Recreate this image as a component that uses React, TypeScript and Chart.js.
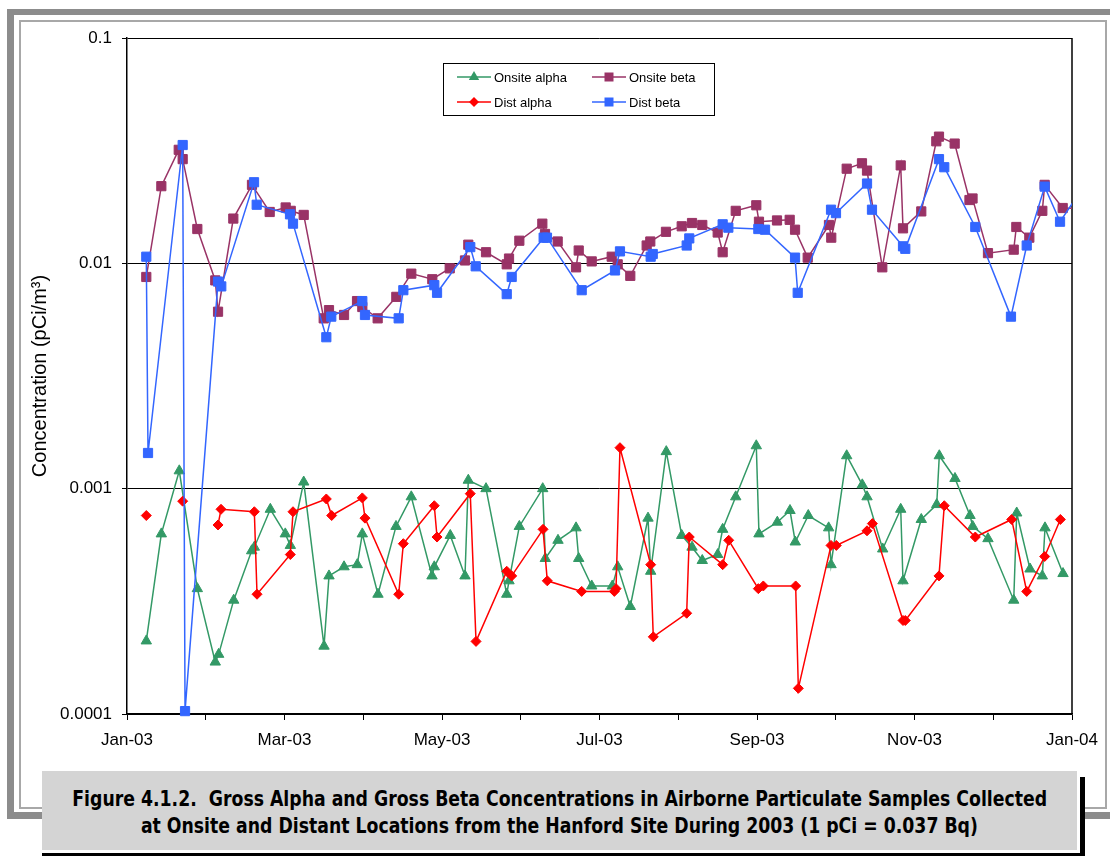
import React, { useEffect, useRef } from 'react';
import { Chart, registerables } from 'chart.js';

Chart.register(...registerables);

// x = months after 1 Jan 2003 (axis drawn with equal monthly intervals)
const xTickLabels = ['Jan-03', 'Mar-03', 'May-03', 'Jul-03', 'Sep-03', 'Nov-03', 'Jan-04'];
const yTickValues = [0.0001, 0.001, 0.01, 0.1];
const yTickLabels = ['0.0001', '0.001', '0.01', '0.1'];

const onsiteAlpha: [number, number][] = [
  [0.245, 0.000211], [0.436, 0.00063], [0.664, 0.0012], [0.893, 0.00036], [1.121, 0.00017],
  [1.164, 0.000184], [1.355, 0.00032], [1.583, 0.00053], [1.617, 0.00055], [1.82, 0.00081],
  [2.01, 0.00063], [2.074, 0.00056], [2.244, 0.00107], [2.502, 0.0002], [2.565, 0.00041],
  [2.756, 0.00045], [2.924, 0.00046], [2.988, 0.00063], [3.187, 0.00034], [3.416, 0.00068],
  [3.61, 0.00092], [3.873, 0.00041], [3.902, 0.00045], [4.105, 0.00062], [4.292, 0.00041],
  [4.334, 0.00109], [4.559, 0.001], [4.822, 0.00034], [4.851, 0.00039], [4.982, 0.00068],
  [5.279, 0.001], [5.312, 0.00049], [5.473, 0.00059], [5.702, 0.00067], [5.736, 0.00049],
  [5.901, 0.00037], [6.163, 0.00037], [6.231, 0.00045], [6.391, 0.0003], [6.616, 0.00074],
  [6.65, 0.00043], [6.848, 0.00146], [7.044, 0.00062], [7.175, 0.00055], [7.305, 0.00048],
  [7.501, 0.00051], [7.564, 0.00066], [7.73, 0.00092], [7.991, 0.00155], [8.025, 0.00063],
  [8.258, 0.00071], [8.419, 0.0008], [8.486, 0.00058], [8.651, 0.00076], [8.91, 0.00067],
  [8.94, 0.00046], [9.139, 0.0014], [9.337, 0.00104], [9.397, 0.00092], [9.596, 0.00054],
  [9.825, 0.00081], [9.854, 0.00039], [10.086, 0.00073], [10.282, 0.00085], [10.315, 0.0014],
  [10.514, 0.00111], [10.705, 0.00076], [10.739, 0.00068], [10.933, 0.0006], [11.26, 0.00032],
  [11.298, 0.00078], [11.467, 0.00044], [11.623, 0.00041], [11.657, 0.00067], [11.886, 0.00042],
];

const onsiteBeta: [number, number][] = [
  [0.245, 0.0087], [0.436, 0.022], [0.657, 0.0319], [0.707, 0.029], [0.893, 0.0142],
  [1.121, 0.0084], [1.156, 0.0061], [1.35, 0.0158], [1.587, 0.0223], [1.812, 0.0169],
  [2.015, 0.0177], [2.079, 0.0171], [2.244, 0.0164], [2.498, 0.0057], [2.565, 0.0062],
  [2.756, 0.0059], [2.921, 0.0068], [2.988, 0.0064], [3.183, 0.0057], [3.42, 0.0071],
  [3.61, 0.009], [3.877, 0.0085], [4.098, 0.0095], [4.292, 0.0103], [4.334, 0.0121],
  [4.559, 0.0112], [4.822, 0.0099], [4.851, 0.0105], [4.982, 0.0126], [5.274, 0.015],
  [5.308, 0.0135], [5.469, 0.0125], [5.702, 0.0096], [5.736, 0.0114], [5.901, 0.0102],
  [6.155, 0.0107], [6.231, 0.0099], [6.391, 0.0088], [6.599, 0.012], [6.645, 0.0125],
  [6.844, 0.0138], [7.044, 0.0146], [7.175, 0.0151], [7.305, 0.0148], [7.501, 0.0137],
  [7.564, 0.0112], [7.73, 0.0171], [7.991, 0.0181], [8.025, 0.0153], [8.254, 0.0155],
  [8.415, 0.0156], [8.483, 0.0141], [8.644, 0.0106], [8.914, 0.0148], [8.943, 0.013],
  [9.139, 0.0263], [9.333, 0.0278], [9.397, 0.0258], [9.591, 0.0096], [9.825, 0.0272],
  [9.854, 0.0143], [10.086, 0.017], [10.277, 0.0348], [10.311, 0.0365], [10.51, 0.034],
  [10.698, 0.0191], [10.737, 0.0194], [10.933, 0.0111], [11.26, 0.0115], [11.293, 0.0145],
  [11.458, 0.013], [11.623, 0.0171], [11.653, 0.0223], [11.882, 0.0176], [12.1, 0.0175],
];

const distAlpha: [number, number | null][] = [
  [0.245, 0.00076], [0.48, null], [0.707, 0.00088], [0.93, null], [1.156, 0.00069],
  [1.194, 0.00081], [1.617, 0.00079], [1.651, 0.00034], [2.074, 0.00051], [2.108, 0.00079],
  [2.531, 0.0009], [2.599, 0.00076], [2.988, 0.00091], [3.022, 0.00074], [3.45, 0.00034],
  [3.509, 0.00057], [3.902, 0.00084], [3.937, 0.00061], [4.359, 0.00095], [4.432, 0.00021],
  [4.822, 0.00043], [4.885, 0.00041], [5.283, 0.00066], [5.337, 0.00039], [5.774, 0.00035],
  [6.188, 0.00035], [6.21, 0.00036], [6.26, 0.00152], [6.65, 0.00046], [6.683, 0.00022],
  [7.107, 0.00028], [7.14, 0.00061], [7.564, 0.00046], [7.641, 0.00059], [8.017, 0.00036],
  [8.08, 0.00037], [8.491, 0.00037], [8.525, 0.00013], [8.94, 0.00056], [9.007, 0.00056],
  [9.397, 0.00065], [9.465, 0.0007], [9.854, 0.00026], [9.883, 0.00026], [10.311, 0.00041],
  [10.378, 0.00084], [10.772, 0.00061], [11.234, 0.00073], [11.425, 0.00035], [11.653, 0.0005],
  [11.852, 0.00073],
];

const distBeta: [number, number][] = [
  [0.245, 0.0107], [0.267, 0.00144], [0.707, 0.0335], [0.737, 0.000103], [1.156, 0.0083],
  [1.197, 0.0079], [1.613, 0.0229], [1.647, 0.0182], [2.07, 0.0165], [2.108, 0.015],
  [2.531, 0.0047], [2.594, 0.0058], [2.988, 0.0068], [3.022, 0.0059], [3.45, 0.0057],
  [3.509, 0.0076], [3.902, 0.008], [3.937, 0.0074], [4.359, 0.0118], [4.428, 0.0097],
  [4.822, 0.0073], [4.885, 0.0087], [5.291, 0.013], [5.333, 0.013], [5.774, 0.0076],
  [6.197, 0.0093], [6.26, 0.0113], [6.65, 0.0107], [6.676, 0.011], [7.107, 0.012],
  [7.14, 0.0129], [7.564, 0.0149], [7.636, 0.0144], [8.017, 0.0142], [8.102, 0.0141],
  [8.483, 0.0106], [8.517, 0.0074], [8.94, 0.0173], [9.003, 0.0167], [9.397, 0.0226],
  [9.46, 0.0173], [9.854, 0.0119], [9.883, 0.0116], [10.311, 0.029], [10.378, 0.0267],
  [10.772, 0.0145], [11.225, 0.0058], [11.425, 0.012], [11.653, 0.0219], [11.848, 0.0153],
  [12.076, 0.0201],
];

const GREEN = '#339966';
const PURPLE = '#993366';
const RED = '#FF0000';
const BLUE = '#3366FF';
const FONT = '"Liberation Sans", Arial, Helvetica, sans-serif';

const toPoints = (pairs: [number, number | null][]) => pairs.map(([x, y]) => ({ x, y }));

function drawMarker(ctx: CanvasRenderingContext2D, kind: string, x: number, y: number, color: string) {
  ctx.fillStyle = color;
  ctx.beginPath();
  if (kind === 'triangle') {
    ctx.moveTo(x, y - 6);
    ctx.lineTo(x + 5.2, y + 3);
    ctx.lineTo(x - 5.2, y + 3);
  } else if (kind === 'rect') {
    ctx.rect(x - 4.5, y - 4.5, 9, 9);
  } else {
    ctx.moveTo(x, y - 5);
    ctx.lineTo(x + 5, y);
    ctx.lineTo(x, y + 5);
    ctx.lineTo(x - 5, y);
  }
  ctx.closePath();
  ctx.fill();
}

const legendItems = [
  { label: 'Onsite alpha', color: GREEN, marker: 'triangle', col: 0, row: 0 },
  { label: 'Onsite beta', color: PURPLE, marker: 'rect', col: 1, row: 0 },
  { label: 'Dist alpha', color: RED, marker: 'rectRot', col: 0, row: 1 },
  { label: 'Dist beta', color: BLUE, marker: 'rect', col: 1, row: 1 },
];

const boxLegend = {
  id: 'boxLegend',
  afterDraw(chart: any) {
    const ctx: CanvasRenderingContext2D = chart.ctx;
    ctx.save();
    ctx.fillStyle = '#fff';
    ctx.fillRect(443.5, 63.5, 271, 52);
    ctx.strokeStyle = '#000';
    ctx.lineWidth = 1;
    ctx.strokeRect(443.5, 63.5, 271, 52);
    ctx.font = '13px ' + FONT;
    ctx.textBaseline = 'middle';
    for (const it of legendItems) {
      const x0 = it.col === 0 ? 457 : 592;
      const y = it.row === 0 ? 77 : 102;
      ctx.strokeStyle = it.color;
      ctx.lineWidth = 1.5;
      ctx.beginPath();
      ctx.moveTo(x0, y);
      ctx.lineTo(x0 + 34, y);
      ctx.stroke();
      drawMarker(ctx, it.marker, x0 + 17, y, it.color);
      ctx.fillStyle = '#000';
      ctx.fillText(it.label, x0 + 37, y + 1);
    }
    ctx.restore();
  },
};

const rightBorder = {
  id: 'rightBorder',
  beforeDatasetsDraw(chart: any) {
    const { ctx, chartArea: a } = chart;
    ctx.save();
    ctx.strokeStyle = '#000';
    ctx.lineWidth = 1.5;
    ctx.beginPath();
    ctx.moveTo(a.right, a.top);
    ctx.lineTo(a.right, a.bottom);
    ctx.stroke();
    ctx.restore();
  },
};

const clip = { left: 8, top: 8, right: 0, bottom: 8 };

export default function App() {
  const ref = useRef<HTMLCanvasElement>(null);

  useEffect(() => {
    if (!ref.current) return;
    const chart = new Chart(ref.current, {
      type: 'line',
      data: {
        datasets: [
          {
            label: 'Onsite alpha', data: toPoints(onsiteAlpha) as any, borderColor: GREEN, backgroundColor: GREEN,
            pointStyle: 'triangle', pointRadius: 6, pointBorderWidth: 1, borderWidth: 1.5, order: 4, clip,
          },
          {
            label: 'Onsite beta', data: toPoints(onsiteBeta) as any, borderColor: PURPLE, backgroundColor: PURPLE,
            pointStyle: 'rect', pointRadius: 6.5, pointBorderWidth: 1, borderWidth: 1.5, order: 3, clip,
          },
          {
            label: 'Dist alpha', data: toPoints(distAlpha) as any, borderColor: RED, backgroundColor: RED,
            pointStyle: 'rectRot', pointRadius: 5, pointBorderWidth: 1, borderWidth: 1.5, order: 2, clip,
          },
          {
            label: 'Dist beta', data: toPoints(distBeta) as any, borderColor: BLUE, backgroundColor: BLUE,
            pointStyle: 'rect', pointRadius: 6.5, pointBorderWidth: 1, borderWidth: 1.5, order: 1, clip,
          },
        ],
      },
      options: {
        responsive: false,
        animation: false,
        events: [],
        spanGaps: false,
        layout: { padding: { top: 38, right: 38, left: 0, bottom: 0 } },
        elements: { line: { tension: 0 } },
        plugins: { legend: { display: false }, tooltip: { enabled: false } },
        scales: {
          x: {
            type: 'linear',
            min: 0,
            max: 12,
            afterFit: (s: any) => { s.height = 46; },
            ticks: {
              stepSize: 1,
              autoSkip: false,
              maxRotation: 0,
              padding: 10,
              color: '#000',
              font: { family: FONT, size: 17 },
              callback: (v: any) => (Number.isInteger(v) && v % 2 === 0 ? xTickLabels[v / 2] : ''),
            },
            grid: { drawOnChartArea: false, drawTicks: true, tickLength: 6, color: '#000' },
            border: { color: '#000', width: 1.5 },
          },
          y: {
            type: 'logarithmic',
            min: 0.0001,
            max: 0.1,
            afterBuildTicks: (s: any) => { s.ticks = yTickValues.map((v) => ({ value: v })); },
            afterFit: (s: any) => { s.width = 127; },
            ticks: {
              padding: 10,
              color: '#000',
              font: { family: FONT, size: 17 },
              callback: (_v: any, i: number) => yTickLabels[i],
            },
            grid: { color: '#000', lineWidth: 1, tickLength: 5 },
            border: { color: '#000', width: 1.5 },
            title: {
              display: true,
              text: 'Concentration (pCi/m³)',
              color: '#000',
              font: { family: FONT, size: 20 },
              padding: { top: 28, bottom: 0 },
            },
          },
        },
      },
      plugins: [boxLegend, rightBorder],
    } as any);
    return () => chart.destroy();
  }, []);

  const abs = (l: number, t: number, w: number, h: number, extra: any = {}) => ({
    position: 'absolute' as const, left: l, top: t, width: w, height: h, ...extra,
  });

  const captionLine = {
    whiteSpace: 'pre' as const,
    transform: 'scaleX(0.915)',
    transformOrigin: 'center',
  };

  return (
    <div style={{ position: 'absolute', left: 0, top: 0, width: 1110, height: 856, background: '#fff', overflow: 'hidden' }}>
      <div style={abs(7, 9, 1103, 6, { background: '#8c8c8c' })} />
      <div style={abs(7, 9, 7, 810, { background: '#8c8c8c' })} />
      <div style={abs(7, 812, 1103, 7, { background: '#8c8c8c' })} />
      <div style={abs(19, 20, 1088, 789, { border: '2px solid #a8a8a8', boxSizing: 'border-box' })} />
      <canvas ref={ref} width={1110} height={760} style={{ position: 'absolute', left: 0, top: 0 }} />
      <div style={abs(42, 768, 1043, 88, { background: '#fff' })} />
      <div style={abs(42, 771, 1035, 79, { background: '#d4d4d4' })} />
      <div style={abs(1080, 777, 5, 79, { background: '#000' })} />
      <div style={abs(42, 853, 1043, 3, { background: '#000' })} />
      <div
        style={abs(42, 773, 1035, 79, {
          display: 'flex', flexDirection: 'column', justifyContent: 'center', alignItems: 'center',
          fontFamily: '"DejaVu Sans Condensed", "Liberation Sans Narrow", "Arial Narrow", sans-serif',
          fontWeight: 'bold', fontSize: 21, lineHeight: '27px', color: '#000', textAlign: 'center',
        })}
      >
        <div style={captionLine}>Figure 4.1.2.  Gross Alpha and Gross Beta Concentrations in Airborne Particulate Samples Collected</div>
        <div style={captionLine}>at Onsite and Distant Locations from the Hanford Site During 2003 (1 pCi = 0.037 Bq)</div>
      </div>
    </div>
  );
}
